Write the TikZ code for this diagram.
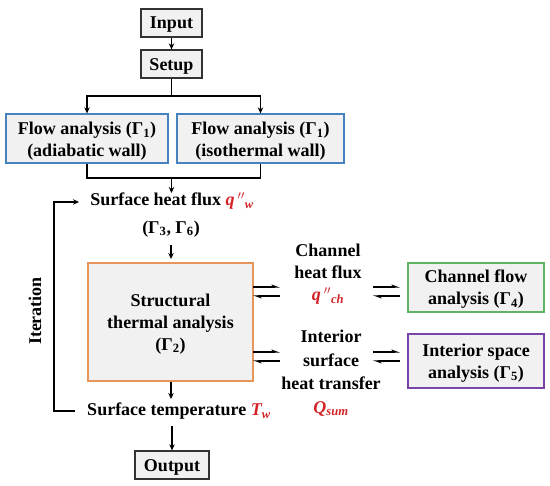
\documentclass[tikz,border=0pt]{standalone}
\usepackage{fontspec}
\setmainfont{Liberation Serif}
\usetikzlibrary{arrows.meta}
\definecolor{boxfill}{RGB}{241,241,241}
\definecolor{bblue}{RGB}{70,130,190}
\definecolor{bgreen}{RGB}{95,180,100}
\definecolor{bpurple}{RGB}{120,70,170}
\definecolor{borange}{RGB}{230,150,90}
\definecolor{tred}{RGB}{210,35,40}
\tikzset{
  every node/.style={font=\fontsize{18}{22}\selectfont\bfseries},
  plainbox/.style={draw=black!80, line width=1.3pt, fill=boxfill, inner sep=0pt},
  arr/.style={-{Stealth[length=6pt,width=5.5pt]}, line width=1.1pt},
  harp/.style={-{Stealth[harpoon,length=7pt,width=5pt]}, line width=1.3pt},
  ln/.style={line width=1.3pt},
  lbl/.style={align=center, inner sep=0pt}
}
\newcommand{\redt}[1]{\textcolor{tred}{\itshape #1}}
\newcommand{\G}[1]{Γ\textsubscript{#1}}
\begin{document}
\begin{tikzpicture}[x=1pt,y=-1pt]
\useasboundingbox (0,0) rectangle (550,486);
% boxes
\node[plainbox, minimum width=61pt, minimum height=28pt] (input) at (171.5,23) {};
\node[lbl] (inputt) at ([yshift=-2pt]input.center) {Input};
\node[plainbox, minimum width=61pt, minimum height=28pt] (setup) at (171.5,64) {};
\node[lbl] (setupt) at ([yshift=-2pt]setup.center) {Setup};
\node[plainbox, draw=bblue, minimum width=162pt, minimum height=49pt] (fa) at (87,138.5) {};
\node[lbl] (fat) at ([yshift=-3pt]fa.center) {Flow analysis (\G{1})\\(adiabatic wall)};
\node[plainbox, draw=bblue, minimum width=167pt, minimum height=49pt] (fi) at (260.5,138.5) {};
\node[lbl] (fit) at ([yshift=-3pt]fi.center) {Flow analysis (\G{1})\\(isothermal wall)};
\node[lbl] (shf) at (172,201) {Surface heat flux \redt{q\,$''$\textsubscript{w}}};
\node[lbl] (g36) at (171,229) {(\G{3}, \G{6})};
\node[plainbox, draw=borange, minimum width=165pt, minimum height=118pt] (sta) at (170.5,322) {};
\node[lbl] (stat) at ([yshift=-2pt]sta.center) {Structural\\thermal analysis\\(\G{2})};
\node[lbl] (st) at (179,411) {Surface temperature \redt{T\textsubscript{w}}};
\node[plainbox, minimum width=74pt, minimum height=28pt] (output) at (172,465) {};
\node[lbl] (outputt) at ([yshift=-2pt]output.center) {Output};
\node[lbl, align=center] (chf) at (328,274) {Channel\\heat flux\\\redt{q\,$''$\textsubscript{ch}}};
\node[plainbox, draw=bgreen, minimum width=136pt, minimum height=49pt] (cfa) at (476,287.5) {};
\node[lbl] (cfat) at ([yshift=-2pt]cfa.center) {Channel flow\\analysis (\G{4})};
\node[lbl, align=center, font=\fontsize{18}{23.5}\selectfont\bfseries] (ish) at (331,373) {Interior\\surface\\heat transfer\\\redt{Q\textsubscript{sum}}};
\node[plainbox, draw=bpurple, minimum width=136pt, minimum height=54pt] (isa) at (476,361) {};
\node[lbl] (isat) at ([yshift=-2pt]isa.center) {Interior space\\analysis (\G{5})};
\node[lbl, rotate=90] (iter) at (35,311) {Iteration};
% connectors
\draw[arr] (input) -- (setup);
\coordinate (sp) at (171.5,96);
\draw[ln] (setup) -- (sp);
\draw[arr] (sp) -| (fa.north);
\draw[arr] (sp) -| (fi.north);
\coordinate (mj) at (171.5,178);
\draw[ln] (fa.south) |- (mj);
\draw[ln] (fi.south) |- (mj);
\coordinate (shfin) at (171.5,193);
\draw[arr] (mj) -- (shfin);
\coordinate (g36b) at (171,245);
\coordinate (stain) at (171,259);
\draw[arr] (g36b) -- (stain);
\coordinate (stin) at (171,399);
\draw[arr] (sta.south -| stin) -- (stin);
\coordinate (stout) at (172,426);
\draw[arr] (stout) -- (output.north);
% double arrows
\coordinate (c1a) at (253,287); \coordinate (c1b) at (280,287);
\coordinate (c2a) at (253,296); \coordinate (c2b) at (280,296);
\coordinate (c3a) at (373,287); \coordinate (c3b) at (400,287);
\coordinate (c4a) at (373,296); \coordinate (c4b) at (400,296);
\draw[harp] (c1a) -- (c1b);
\draw[harp] (c2b) -- (c2a);
\draw[harp] (c3a) -- (c3b);
\draw[harp] (c4b) -- (c4a);
\coordinate (d1a) at (253,352); \coordinate (d1b) at (280,352);
\coordinate (d2a) at (253,361); \coordinate (d2b) at (280,361);
\coordinate (d3a) at (373,352); \coordinate (d3b) at (400,352);
\coordinate (d4a) at (373,361); \coordinate (d4b) at (400,361);
\draw[harp] (d1a) -- (d1b);
\draw[harp] (d2b) -- (d2a);
\draw[harp] (d3a) -- (d3b);
\draw[harp] (d4b) -- (d4a);
% iteration loop
\coordinate (lt) at (54,202);
\coordinate (lb) at (54,411);
\coordinate (ltend) at (79,202);
\coordinate (lbst) at (75,411);
\draw[arr] (lbst) -- (lb) -- (lt) -- (ltend);
\end{tikzpicture}
\end{document}
